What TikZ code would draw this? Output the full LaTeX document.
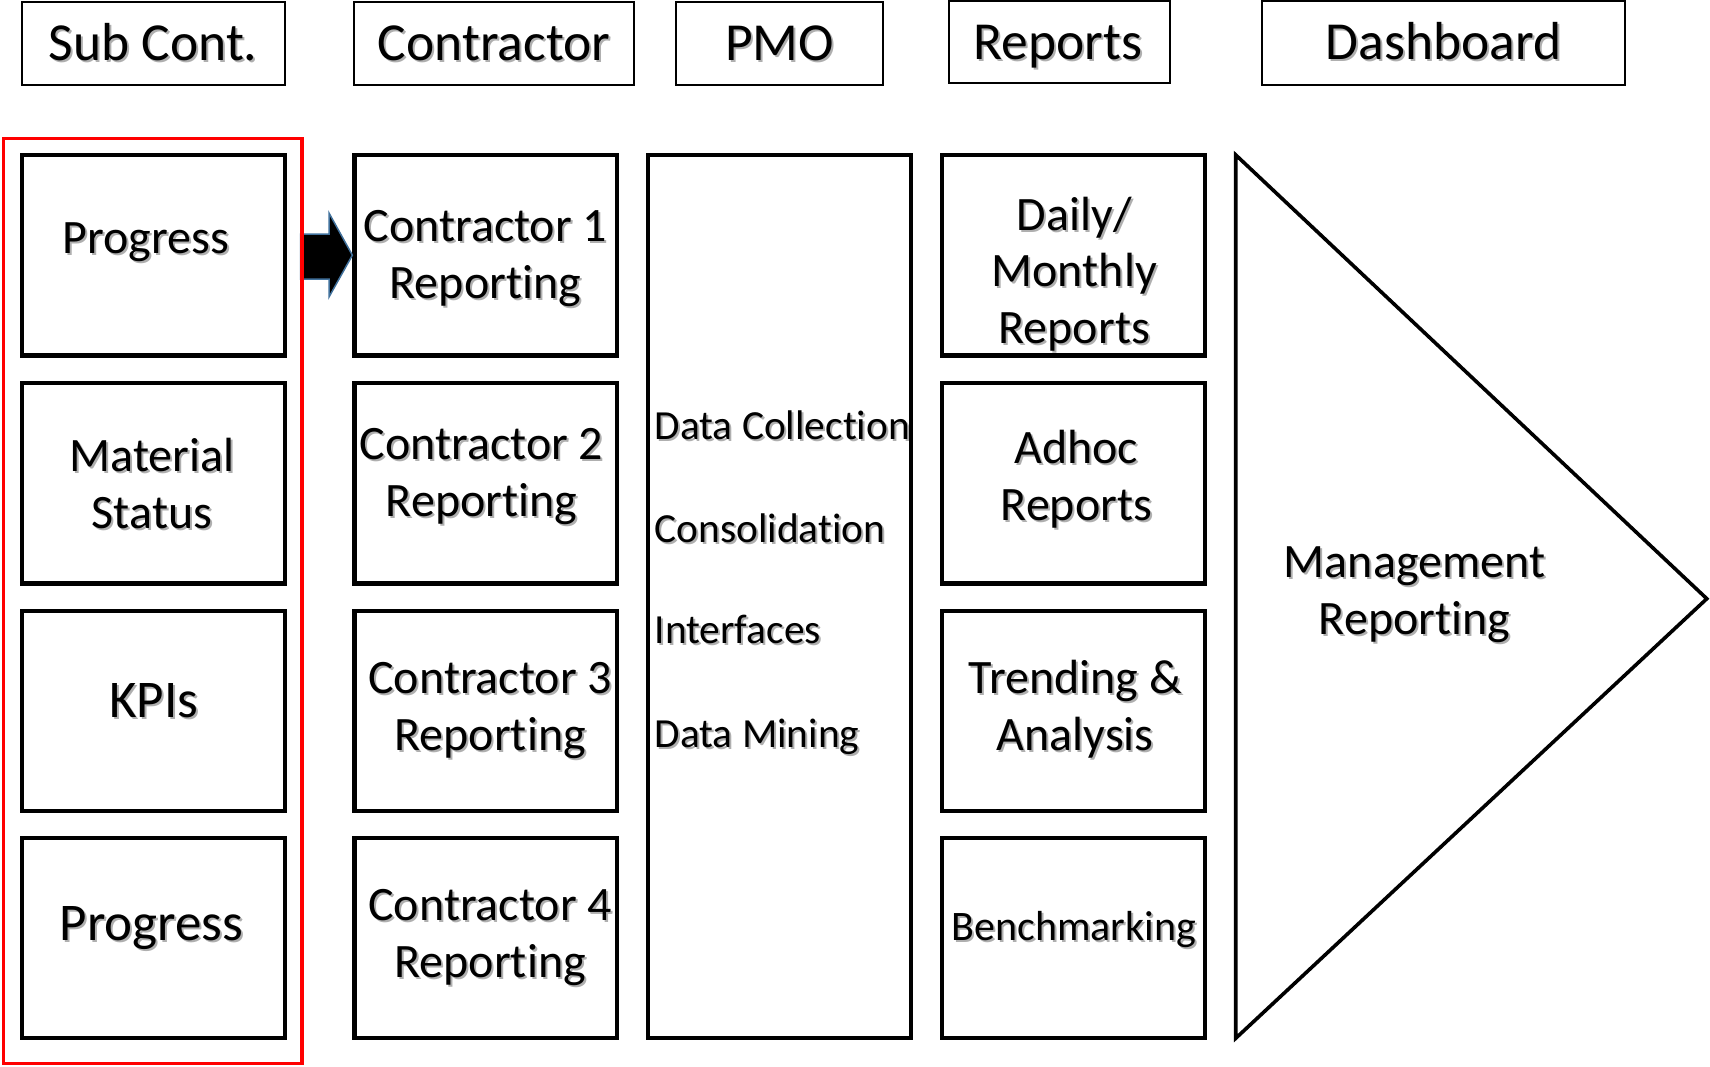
\documentclass[tikz,border=0pt]{standalone}
\usepackage{fontspec}
\setmainfont{Carlito}[Ligatures=NoCommon]
\definecolor{arrowedge}{RGB}{65,113,156}
\definecolor{shadowgray}{RGB}{175,175,175}
% text with a soft drop shadow: #1 name, #2 style, #3 position, #4 text
\newcommand\shadowtext[4]{%
  \node[#2,text=shadowgray,xshift=2pt,yshift=-2pt] (#1-sh) at (#3) {#4};
  \node[#2] (#1) at (#3) {#4};}
\begin{document}
\begin{tikzpicture}[x=1pt,y=-1pt,
  hdr/.style={draw=black,line width=2pt,inner sep=0pt},
  hdrtext/.style={inner sep=0pt,font=\fontsize{53.5}{64}\selectfont,text height=34.4pt,text depth=0pt},
  box/.style={draw=black,line width=4.2pt,inner sep=0pt,minimum width=262.8pt,minimum height=200.6pt},
  big/.style={font=\fontsize{48}{57.6}\selectfont,inner sep=0pt,align=center,anchor=base},
  bigger/.style={big,font=\fontsize{53}{63}\selectfont},
  lst/.style={font=\fontsize{41.4}{50}\selectfont,inner sep=0pt,anchor=base west},
  blockarrow/.style={fill=black,draw=arrowedge,line width=1.5pt,line join=miter},
]
\useasboundingbox (0,0) rectangle (1710,1066);

% header texts
\shadowtext{ths}{hdrtext}{153.2,43.65}{Sub Cont.}
\shadowtext{thc}{hdrtext}{494.15,43.65}{Contractor}
\shadowtext{thp}{hdrtext}{779.4,43.65}{PMO}
\shadowtext{thr}{hdrtext}{1057.6,42.15}{Reports}
\shadowtext{thd}{hdrtext}{1443.45,42.75}{Dashboard}
% header boxes
\node[hdr,minimum width=262.8pt,minimum height=82.9pt] (hs) at (153.2,43.65) {};
\node[hdr,minimum width=279.7pt,minimum height=82.9pt] (hc) at (494.15,43.65) {};
\node[hdr,minimum width=206.4pt,minimum height=82.9pt] (hp) at (779.4,43.65) {};
\node[hdr,minimum width=221.2pt,minimum height=82.3pt] (hr) at (1059.6,42.15) {};
\node[hdr,minimum width=363.5pt,minimum height=83.5pt] (hd) at (1443.45,42.75) {};

% box texts (anchor = baseline of the last line)
\shadowtext{ts1}{big}{145.6,253}{Progress}
\shadowtext{ts2}{big}{152,528.6}{Material\\Status}
\shadowtext{ts3}{bigger}{153.8,717}{KPIs}
\shadowtext{ts4}{bigger}{151.6,940.7}{Progress}
\shadowtext{tc1}{big}{485.3,298.6}{Contractor 1\\Reporting}
\shadowtext{tc2}{big}{481.5,516.6}{Contractor 2\\Reporting}
\shadowtext{tc3}{big}{490.2,750.6}{Contractor 3\\Reporting}
\shadowtext{tc4}{big}{490.2,977.6}{Contractor 4\\Reporting}
\shadowtext{tr1}{big,font=\fontsize{48}{56.7}\selectfont}{1074.2,343.4}{Daily/\\Monthly\\Reports}
\shadowtext{tr2}{big}{1076.4,520.6}{Adhoc\\Reports}
\shadowtext{tr3}{big}{1075.3,750.6}{Trending \&\\Analysis}
\shadowtext{tr4}{big,font=\fontsize{42}{50}\selectfont}{1073.7,940.5}{Benchmarking}
\shadowtext{tm}{big}{1414.5,634.6}{Management\\Reporting}
\shadowtext{p1}{lst}{654.4,439.5}{Data Collection}
\shadowtext{p2}{lst}{654.4,542}{Consolidation}
\shadowtext{p3}{lst}{654.4,643.5}{Interfaces}
\shadowtext{p4}{lst}{654.4,747}{Data Mining}

% boxes
\node[box] (s1) at (153.2,255.2) {};
\node[box] (s2) at (153.2,483.2) {};
\node[box] (s3) at (153.2,711.0) {};
\node[box] (s4) at (153.2,938.0) {};
\node[box] (c1) at (485.85,255.2) {};
\node[box] (c2) at (485.85,483.2) {};
\node[box] (c3) at (485.85,711.0) {};
\node[box] (c4) at (485.85,938.0) {};
\node[box] (r1) at (1073.7,255.2) {};
\node[box] (r2) at (1073.7,483.2) {};
\node[box] (r3) at (1073.7,711.0) {};
\node[box] (r4) at (1073.7,938.0) {};
\node[box,minimum width=262.9pt,minimum height=883.4pt] (pmo) at (779.25,596.6) {};

% dashboard triangle
\draw[line width=3.6pt,line join=miter] (1235.7,154.9) -- (1706.8,598.7) -- (1235.7,1038.3) -- cycle;

% block arrow
\draw[blockarrow] (300.5,234) -- (329,234) -- (329,213) -- (c1.west) -- (329,297) -- (329,279) -- (300.5,279) -- cycle;

% red frame
\node[draw=red,line width=3.3pt,inner sep=0pt,minimum width=298.7pt,minimum height=924.8pt] (frame) at (152.65,600.9) {};
\end{tikzpicture}
\end{document}
